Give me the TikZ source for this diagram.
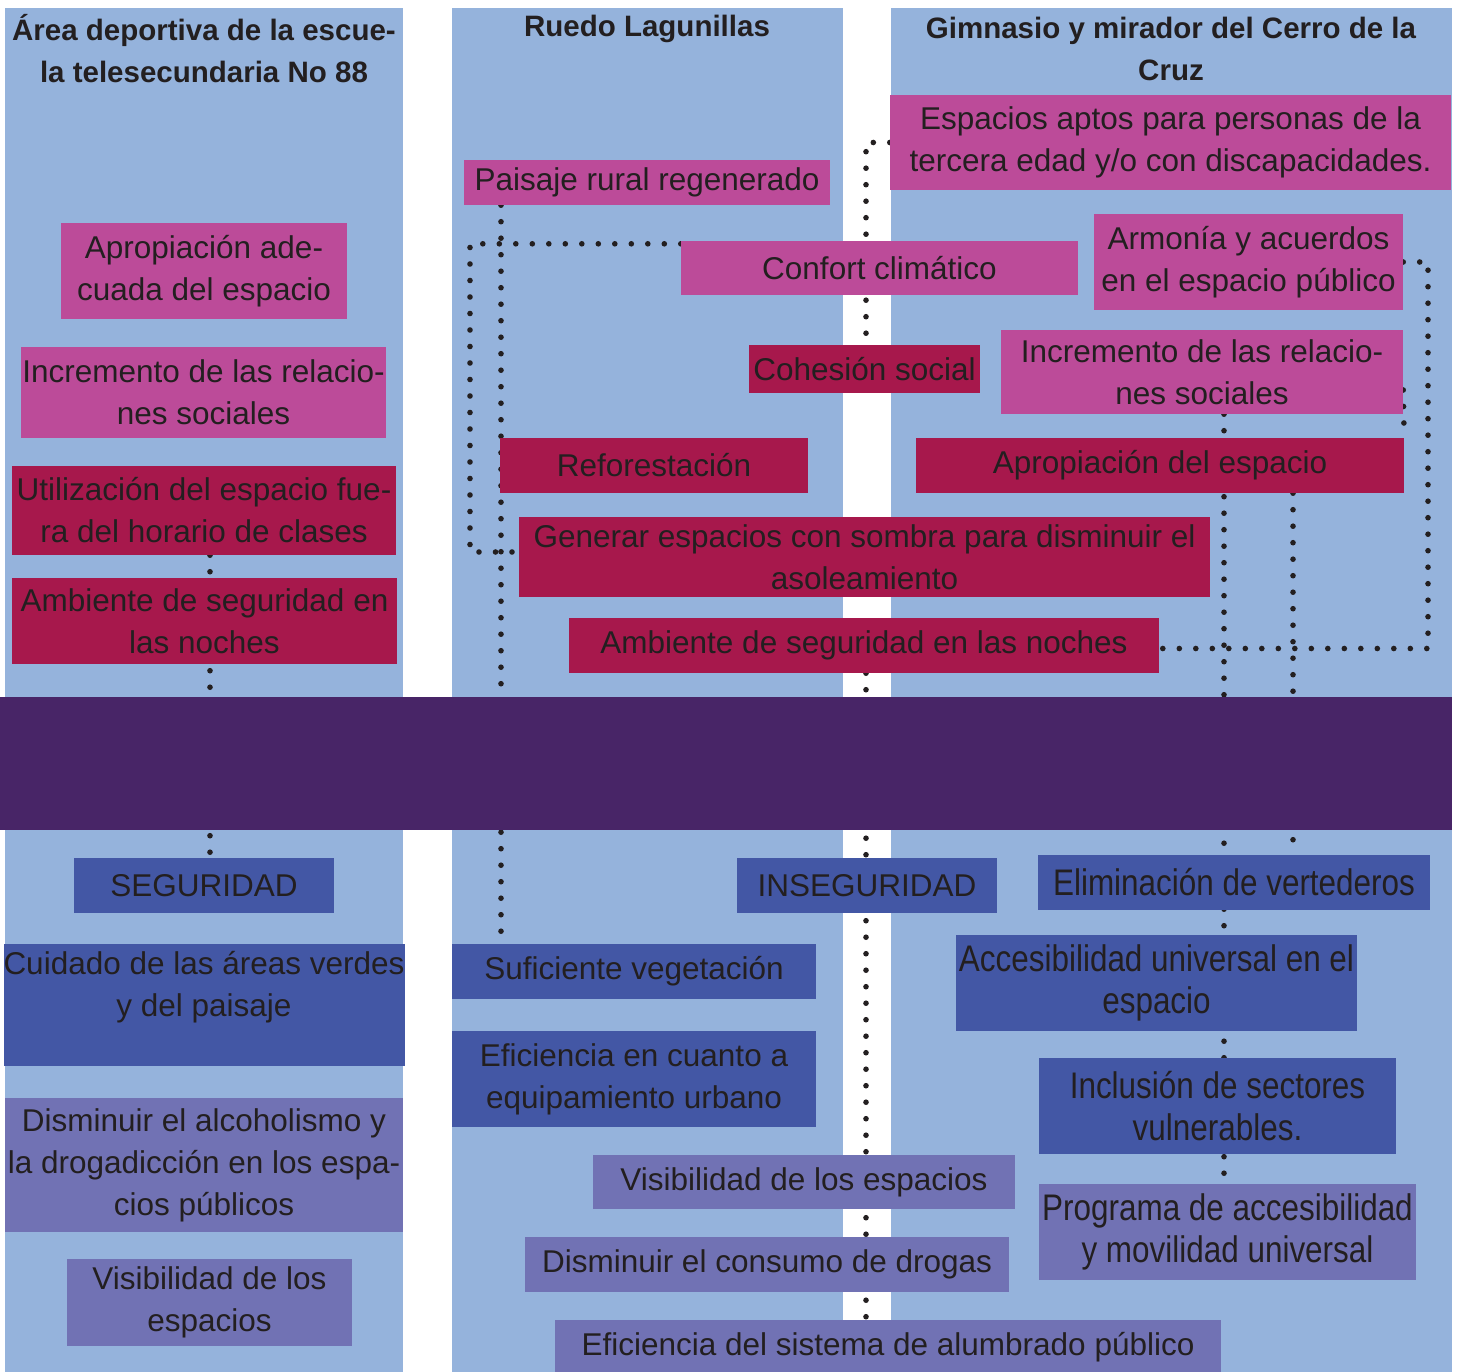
\documentclass[tikz,border=0pt]{standalone}
\usepackage{fontspec}
\setmainfont{Liberation Sans}
\newfontfamily\condfont[FakeStretch=0.85]{Liberation Sans}
\usepackage{xcolor}
\usepackage{tikz}
\usetikzlibrary{calc}

\definecolor{ink}{HTML}{231F20}
\definecolor{panel}{HTML}{95B3DC}
\definecolor{pinkfill}{HTML}{BC4B99}
\definecolor{redfill}{HTML}{A7184C}
\definecolor{bandfill}{HTML}{482567}
\definecolor{bluefill}{HTML}{4357A5}
\definecolor{lilafill}{HTML}{7172B4}

\pgfdeclarelayer{background}
\pgfdeclarelayer{links}
\pgfsetlayers{background,links,main}

\begin{document}
\begin{tikzpicture}[
  x=1pt, y=-1pt,
  box/.style={inner sep=0pt, align=center, text=ink,
    font=\fontsize{31.5}{42}\selectfont},
  pinkbox/.style={box, fill=pinkfill},
  redbox/.style={box, fill=redfill},
  bluebox/.style={box, fill=bluefill},
  lilabox/.style={box, fill=lilafill},
  condtext/.style={font=\condfont\fontsize{37}{42}\selectfont},
  head/.style={inner sep=0pt, align=center, text=ink,
    font=\fontsize{29.5}{42}\selectfont\bfseries},
  dots/.style={draw=ink, line width=5.6pt, line cap=round,
    dash pattern=on 0pt off 16.5pt}
]
  \useasboundingbox (0,0) rectangle (1458,1372);

  % column panels
  \begin{pgfonlayer}{background}
    \fill[panel] (5,8) rectangle (403,1372);
    \fill[panel] (452,8) rectangle (843,1372);
    \fill[panel] (891,8) rectangle (1452,1372);
  \end{pgfonlayer}

  % Headers
  \node[head] (headA) at (204,49) {Área deportiva de la escue-\\la telesecundaria No 88};
  \node[head] (headB) at (647,29) {Ruedo Lagunillas};
  \node[head] (headC) at (1171,49) {Gimnasio y mirador del Cerro de la\\Cruz};

  % Column A
  \node[pinkbox, minimum width=286pt, minimum height=96pt] (aprA) at (204,271) {Apropiación ade-\\cuada del espacio};
  \node[pinkbox, minimum width=365pt, minimum height=91pt] (relA) at (203.5,392.5) {Incremento de las relacio-\\nes sociales};
  \node[redbox, minimum width=384pt, minimum height=89pt] (utilA) at (204,510.5) {Utilización del espacio fue-\\ra del horario de clases};
  \node[redbox, minimum width=385pt, minimum height=86pt] (nocheA) at (204.5,621) {Ambiente de seguridad en\\las noches};
  \node[bluebox, minimum width=260pt, minimum height=55pt] (segA) at (204,885.5) {SEGURIDAD};
  \node[bluebox, minimum width=398pt, minimum height=122pt, text depth=42pt] (cuidA) at (204,1005) {Cuidado de las áreas verdes\\y del paisaje};
  \node[lilabox, minimum width=398pt, minimum height=134pt] (alcA) at (204,1165) {Disminuir el alcoholismo y\\la drogadicción en los espa-\\cios públicos};
  \node[lilabox, minimum width=285pt, minimum height=87pt] (visA) at (209.5,1302.5) {Visibilidad de los\\espacios};

  % Column B
  \node[pinkbox, minimum width=366pt, minimum height=45pt] (paisB) at (647,182.5) {Paisaje rural regenerado};
  \node[pinkbox, minimum width=397pt, minimum height=54pt] (confB) at (879.5,268) {Confort climático};
  \node[redbox, minimum width=231pt, minimum height=48pt] (cohB) at (864.5,369) {Cohesión social};
  \node[redbox, minimum width=308pt, minimum height=55pt] (refB) at (654,465.5) {Reforestación};
  \node[redbox, minimum width=691pt, minimum height=80pt] (genB) at (864.5,557) {Generar espacios con sombra para disminuir el\\asoleamiento};
  \node[redbox, minimum width=590pt, minimum height=55pt] (nocheB) at (864,645.5) {Ambiente de seguridad en las noches};
  \node[bluebox, minimum width=260pt, minimum height=55pt] (insB) at (867,885.5) {INSEGURIDAD};
  \node[bluebox, minimum width=364pt, minimum height=55pt] (sufB) at (634,971.5) {Suficiente vegetación};
  \node[bluebox, minimum width=364pt, minimum height=96pt] (equipB) at (634,1079) {Eficiencia en cuanto a\\equipamiento urbano};
  \node[lilabox, minimum width=422pt, minimum height=54pt] (visB) at (804,1182) {Visibilidad de los espacios};
  \node[lilabox, minimum width=484pt, minimum height=55pt] (drogB) at (767,1264.5) {Disminuir el consumo de drogas};
  \node[lilabox, minimum width=666pt, minimum height=55pt] (alumB) at (888,1347.5) {Eficiencia del sistema de alumbrado público};

  % Column C
  \node[pinkbox, minimum width=561pt, minimum height=95pt] (espC) at (1170.5,142.5) {Espacios aptos para personas de la\\tercera edad y/o con discapacidades.};
  \node[pinkbox, minimum width=309pt, minimum height=96pt] (armC) at (1248.5,262) {Armonía y acuerdos\\en el espacio público};
  \node[pinkbox, minimum width=402pt, minimum height=84pt] (incrC) at (1202,372) {Incremento de las relacio-\\nes sociales};
  \node[redbox, minimum width=488pt, minimum height=55pt] (aprC) at (1160,465.5) {Apropiación del espacio};
  \node[bluebox, condtext, minimum width=392pt, minimum height=55pt] (elimC) at (1234,882.5) {Eliminación de vertederos};
  \node[bluebox, condtext, minimum width=401pt, minimum height=96pt] (accC) at (1156.5,983) {Accesibilidad universal en el\\espacio};
  \node[bluebox, condtext, minimum width=357pt, minimum height=96pt] (inclC) at (1217.5,1106) {Inclusión de sectores\\vulnerables.};
  \node[lilabox, condtext, minimum width=377pt, minimum height=96pt] (progC) at (1227.5,1232) {Programa de accesibilidad\\y movilidad universal};

  % middle band
  \fill[bandfill] (0,697) rectangle (1452,830);

  % dotted links, under the boxes
  \coordinate (trkA) at (210,0);
  \coordinate (trkB) at (501,0);
  \coordinate (sideB) at (470,0);
  \coordinate (gapB) at (866,0);
  \coordinate (trkC) at (1224,0);
  \coordinate (trkD) at (1293,0);
  \coordinate (sideC) at (1428,0);
  \begin{pgfonlayer}{links}
    \draw[dots] (utilA.south -| trkA) -- (segA.north -| trkA);
    \draw[dots] (paisB.south -| trkB) -- (sufB.north -| trkB);
    \draw[dots] ([yshift=-3pt]confB.north west) -| ($(sideB |- genB.west)+(0,-5)$) -- ($(genB.west)+(0,-5)$);
    \draw[dots] (espC.west) -| (cohB.north -| gapB);
    \draw[dots] (nocheB.south -| gapB) -- (alumB.north -| gapB);
    \draw[dots] (incrC.south -| trkC) -- (progC.north -| trkC);
    \draw[dots] (aprC.south -| trkD) -- (elimC.north -| trkD);
    \draw[dots] (armC.east) -| ($(sideC |- nocheB.east)+(0,3)$) -- ($(nocheB.east)+(0,3)$);
    \draw[dots] ($(incrC.east)+(0,18)$) -- (aprC.north east);
  \end{pgfonlayer}
\end{tikzpicture}
\end{document}
